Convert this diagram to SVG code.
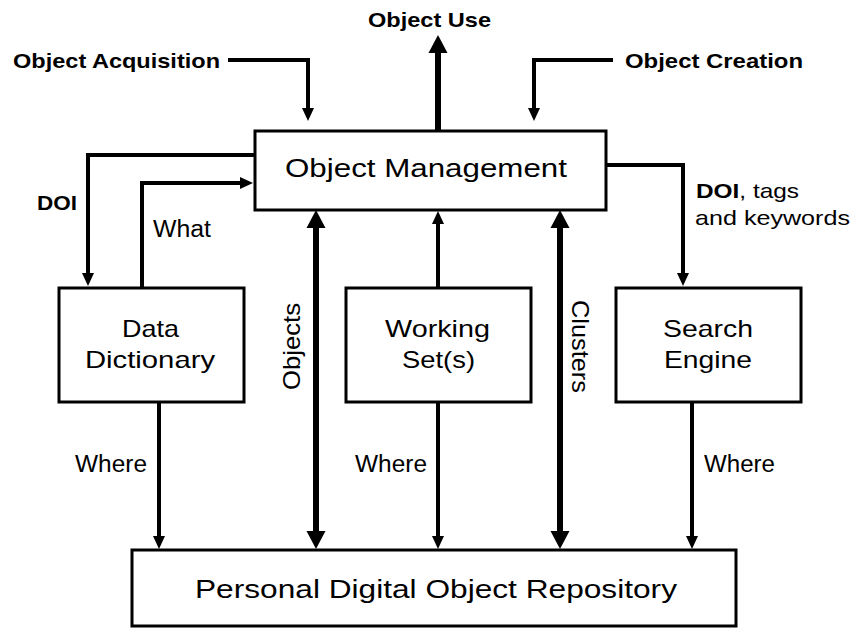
<svg xmlns="http://www.w3.org/2000/svg" width="855" height="628" viewBox="0 0 855 628">
<style>
text{font-family:"Liberation Sans",Arial,sans-serif;fill:#000}
.box{fill:#fff;stroke:#000;stroke-width:3}
.node{font-size:24px}
.lbl{font-size:23px}
.bold{font-size:21px;font-weight:bold}
.thin{fill:none;stroke:#000;stroke-width:4;marker-end:url(#ah)}
.thick{fill:none;stroke:#000;stroke-width:6}
</style>
<defs>
<marker id="ah" markerUnits="userSpaceOnUse" markerWidth="13" markerHeight="12" refX="7" refY="6" orient="auto" overflow="visible">
<path d="M0,0 L13,6 L0,12 z" fill="#000"/>
</marker>
<marker id="ahT" markerUnits="userSpaceOnUse" markerWidth="18" markerHeight="19" refX="9" refY="9.5" orient="auto-start-reverse" overflow="visible">
<path d="M0,0 L18,9.5 L0,19 z" fill="#000"/>
</marker>
</defs>
<rect width="855" height="628" fill="#fff"/>
<g id="connectors">
<path class="thin" d="M228,60 H308 V115"/>
<path class="thin" d="M613,60 H534 V115"/>
<path class="thick" d="M438,131 V44" marker-end="url(#ahT)"/>
<path class="thin" d="M255,155 H88 V280"/>
<path class="thin" d="M142,288 V183 H247"/>
<path class="thick" d="M316,219 V540" marker-start="url(#ahT)" marker-end="url(#ahT)"/>
<path class="thin" d="M438,288 V217"/>
<path class="thin" d="M438,402 V543"/>
<path class="thick" d="M560,219 V540" marker-start="url(#ahT)" marker-end="url(#ahT)"/>
<path class="thin" d="M606,165 H683 V280"/>
<path class="thin" d="M692,402 V543"/>
<path class="thin" d="M159,402 V543"/>
</g>
<g id="labels">
<text class="bold" x="368" y="27" textLength="123" lengthAdjust="spacingAndGlyphs">Object Use</text>
<text class="bold" x="13" y="68" textLength="207" lengthAdjust="spacingAndGlyphs">Object Acquisition</text>
<text class="bold" x="625" y="68" textLength="178" lengthAdjust="spacingAndGlyphs">Object Creation</text>
<text class="bold" x="37" y="210" textLength="40" lengthAdjust="spacingAndGlyphs">DOI</text>
<text class="lbl" x="153" y="237" textLength="58" lengthAdjust="spacingAndGlyphs">What</text>
<text style="font-size:21px" x="696" y="198" textLength="103" lengthAdjust="spacingAndGlyphs"><tspan font-weight="bold">DOI</tspan>, tags</text>
<text style="font-size:21px" x="695" y="225" textLength="155" lengthAdjust="spacingAndGlyphs">and keywords</text>
<text class="node" transform="translate(300,390) rotate(-90)" textLength="87" lengthAdjust="spacingAndGlyphs">Objects</text>
<text class="node" transform="translate(572,300) rotate(90)" textLength="93" lengthAdjust="spacingAndGlyphs">Clusters</text>
<text class="lbl" x="75" y="472" textLength="72" lengthAdjust="spacingAndGlyphs">Where</text>
<text class="lbl" x="355" y="472" textLength="72" lengthAdjust="spacingAndGlyphs">Where</text>
<text class="lbl" x="704" y="472" textLength="71" lengthAdjust="spacingAndGlyphs">Where</text>
</g>
<g id="object-management">
<rect class="box" x="255" y="131" width="351" height="79"/>
<text style="font-size:26px" x="285" y="177" textLength="282" lengthAdjust="spacingAndGlyphs">Object Management</text>
</g>
<g id="data-dictionary">
<rect class="box" x="59" y="288" width="185" height="114"/>
<text class="node" x="122" y="337" textLength="57" lengthAdjust="spacingAndGlyphs">Data</text>
<text class="node" x="85" y="368" textLength="130" lengthAdjust="spacingAndGlyphs">Dictionary</text>
</g>
<g id="working-sets">
<rect class="box" x="346" y="288" width="185" height="114"/>
<text class="node" x="385" y="337" textLength="105" lengthAdjust="spacingAndGlyphs">Working</text>
<text class="node" x="402" y="368" textLength="73" lengthAdjust="spacingAndGlyphs">Set(s)</text>
</g>
<g id="search-engine">
<rect class="box" x="616" y="288" width="185" height="114"/>
<text class="node" x="663" y="337" textLength="90" lengthAdjust="spacingAndGlyphs">Search</text>
<text class="node" x="664" y="368" textLength="88" lengthAdjust="spacingAndGlyphs">Engine</text>
</g>
<g id="repository">
<rect class="box" x="132" y="550" width="604" height="76"/>
<text style="font-size:25px" x="195" y="598" textLength="482" lengthAdjust="spacingAndGlyphs">Personal Digital Object Repository</text>
</g>
</svg>
